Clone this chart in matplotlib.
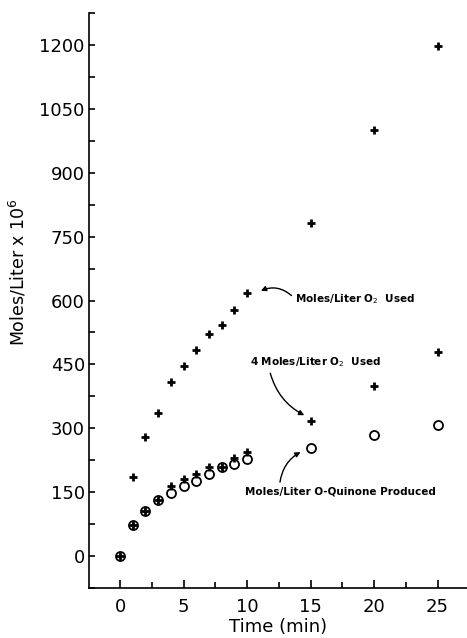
import numpy as np
import matplotlib
matplotlib.use("Agg")
import matplotlib.pyplot as plt
from matplotlib.ticker import MultipleLocator

# time points (min)
time_pts = [0, 1, 2, 3, 4, 5, 6, 7, 8, 9, 10, 15, 20, 25]

# Moles/Liter O2 used (x 10^6)
o2_time = [1, 2, 3, 4, 5, 6, 7, 8, 9, 10, 15, 20, 25]
o2_used = [185, 280, 335, 408, 447, 484, 522, 543, 578, 617, 783, 1000, 1197]

# 4 x Moles/Liter O2 used
o2x4_used = [0, 73, 106, 131, 164, 181, 193, 209, 209, 230, 244, 316, 400, 480]

# Moles/Liter o-quinone produced
quinone = [0, 73, 106, 131, 148, 164, 177, 193, 209, 216, 229, 253, 284, 307]

plt.rcParams['font.family'] = ['DejaVu Sans']

fig = plt.figure(figsize=(4.67, 6.38), dpi=100)
ax = fig.add_axes([0.1906, 0.0784, 0.809, 0.901])

ax.plot(time_pts, quinone, linestyle='none', marker='o', markersize=6.5,
        markerfacecolor='white', markeredgecolor='black', markeredgewidth=1.3)
ax.plot(time_pts, o2x4_used, linestyle='none', marker='+', markersize=5.5,
        color='black', markeredgewidth=2)
ax.plot(o2_time, o2_used, linestyle='none', marker='+', markersize=5.5,
        color='black', markeredgewidth=2)

ax.set_xlim(-2.44, 27.3)
ax.set_ylim(-75, 1275)

ax.xaxis.set_major_locator(MultipleLocator(5))
ax.xaxis.set_minor_locator(MultipleLocator(2.5))
ax.yaxis.set_major_locator(MultipleLocator(150))
ax.yaxis.set_minor_locator(MultipleLocator(75))

ax.spines['top'].set_visible(False)
ax.spines['right'].set_visible(False)
for s in ['left', 'bottom']:
    ax.spines[s].set_linewidth(1.2)

ax.tick_params(axis='both', which='both', direction='in', width=1.2, labelsize=13)
ax.tick_params(axis='x', which='major', length=6, pad=7)
ax.tick_params(axis='x', which='minor', length=4)
ax.tick_params(axis='y', which='both', length=4, pad=3)

ax.set_xlabel('Time (min)', fontsize=13, labelpad=2)
ax.set_ylabel(r'Moles/Liter x 10$^6$', fontsize=12.5)
ax.yaxis.set_label_coords(-0.16, 0.55)

txt = dict(fontsize=7.5, fontweight='bold', va='center', ha='left')
arrow = dict(arrowstyle='-|>', color='black', lw=1, shrinkA=1, shrinkB=4)

ax.annotate('Moles/Liter O$_2$  Used', xy=(10.7, 617), xytext=(13.8, 603),
            arrowprops=dict(connectionstyle='arc3,rad=0.4', relpos=(0, 0.5), **arrow),
            **txt)
ax.annotate('4 Moles/Liter O$_2$  Used', xy=(14.9, 325), xytext=(10.2, 455),
            arrowprops=dict(connectionstyle='arc3,rad=0.25', relpos=(0.15, 0), **arrow),
            **txt)
ax.annotate('Moles/Liter O-Quinone Produced', xy=(14.6, 250), xytext=(9.85, 152),
            arrowprops=dict(connectionstyle='arc3,rad=-0.3', relpos=(0.18, 1), **arrow),
            **txt)

fig.savefig('out.png', dpi=100)
